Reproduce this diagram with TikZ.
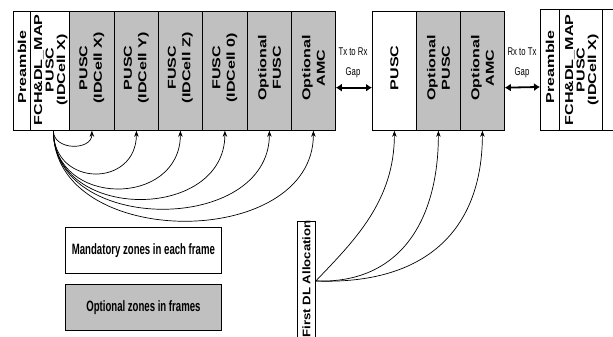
\documentclass[tikz,border=0pt]{standalone}
\usepackage{fontspec}
\usetikzlibrary{arrows.meta,calc}
\newfontfamily\zonefont[FakeStretch=1.4]{Liberation Sans}
\newfontfamily\dlfont[FakeStretch=1.2]{Liberation Sans}
\newfontfamily\narrowfont[FakeStretch=0.69]{Liberation Sans}
\newfontfamily\legendfont[FakeStretch=0.64]{Liberation Sans}
\definecolor{zonegray}{RGB}{192,192,192}

\begin{document}
\begin{tikzpicture}[x=1pt,y=-1pt,
  zone/.style={draw=black, line width=0.8pt, inner sep=0pt, anchor=north west, minimum height=119pt},
  opt/.style={zone, fill=zonegray},
  man/.style={zone, fill=white},
  zlabel/.style={rotate=90, align=center, inner sep=0pt,
    font=\zonefont\bfseries\fontsize{11.5}{14.5}\selectfont},
  wlabel/.style={rotate=90, align=center, inner sep=0pt,
    font=\zonefont\bfseries\fontsize{11.5}{11.5}\selectfont},
  link/.style={line width=0.7pt, -{Stealth[length=6pt,width=4.5pt]}},
  gaparrow/.style={line width=1.8pt, {Latex[length=6pt,width=8pt]}-{Latex[length=6pt,width=8pt]}},
  gaptext/.style={align=center, inner sep=0pt, font=\narrowfont\fontsize{11.2}{20}\selectfont},
  legend/.style={draw=black, line width=0.8pt, minimum width=156pt, minimum height=46pt,
    inner sep=0pt, anchor=north west, font=\legendfont\bfseries\fontsize{15}{17}\selectfont}]
\useasboundingbox (0,0) rectangle (613,337);
\clip (0,0) rectangle (613,337);

% ---- first frame ----
\node[man, minimum width=17pt] (a1) at (13,11) {};
\node[man, minimum width=39pt] (a2) at (30,11) {};
\node[opt, minimum width=45pt] (a3) at (69,11) {};
\node[opt, minimum width=44pt] (a4) at (114,11) {};
\node[opt, minimum width=44pt] (a5) at (158,11) {};
\node[opt, minimum width=45pt] (a6) at (202,11) {};
\node[opt, minimum width=44pt] (a7) at (247,11) {};
\node[opt, minimum width=44pt] (a8) at (291,11) {};

\node[wlabel] at ($(a1)+(0,-4)$) {Preamble};
\node[wlabel] at ($(a2)+(1,-1)$) {FCH\&DL\_MAP\\PUSC\\(IDCell X)};
\node[zlabel] at ($(a3)+(0,-3)$) {PUSC\\(IDCell X)};
\node[zlabel] at ($(a4)+(0,-3)$) {PUSC\\(IDCell Y)};
\node[zlabel] at ($(a5)+(0,-3)$) {FUSC\\(IDCell Z)};
\node[zlabel] at ($(a6)+(0,-3)$) {FUSC\\(IDCell 0)};
\node[zlabel] at ($(a7)+(0,-3)$) {Optional\\FUSC};
\node[zlabel] at ($(a8)+(0,-3)$) {Optional\\AMC};

% ---- second frame ----
\node[man, minimum width=44pt] (b1) at (372,11) {};
\node[opt, minimum width=44pt] (b2) at (416,11) {};
\node[opt, minimum width=44pt] (b3) at (460,11) {};
\node[zlabel] at ($(b1)+(0,-3)$) {PUSC};
\node[zlabel] at ($(b2)+(0,-3)$) {Optional\\PUSC};
\node[zlabel] at ($(b3)+(0,-3)$) {Optional\\AMC};

% ---- third frame ----
\node[man, minimum width=19pt, minimum height=121pt] (c1) at (540,9) {};
\node[man, minimum width=43pt, minimum height=121pt] (c2) at (559,9) {};
\node[man, minimum width=30pt, minimum height=121pt] (c3) at (602,9) {};
\node[wlabel] at ($(c1)+(0,-3)$) {Preamble};
\node[wlabel] at ($(c2)+(1,0)$) {FCH\&DL\_MAP\\PUSC\\(IDCell X)};

% ---- gaps between frames ----
\node[gaptext] (g1) at (353,63) {Tx to Rx\\Gap};
\node[gaptext] (g2) at (522,63) {Rx to Tx\\Gap};
\draw[gaparrow] ($(a8.north east)!0.64!(a8.south east)$) -- ($(b1.north west)!0.64!(b1.south west)$);
\draw[gaparrow] ($(b3.north east)!0.64!(b3.south east)$) -- ($(c1.north west)!0.64!(c1.south west)$);

% ---- zone links from the FCH zone ----
\coordinate (src) at ($(a2.south)+(3.5,0)$);
\draw[link] (src) .. controls ($(src)+(0,20)$) and ($(a3.south)+(0,20)$) .. (a3.south);
\draw[link] (src) .. controls ($(src)+(0,57)$) and ($(a4.south)+(0,57)$) .. (a4.south);
\draw[link] (src) .. controls ($(src)+(0,77)$) and ($(a5.south)+(0,77)$) .. (a5.south);
\draw[link] (src) .. controls ($(src)+(0,91)$) and ($(a6.south)+(0,91)$) .. (a6.south);
\draw[link] (src) .. controls ($(src)+(0,104)$) and ($(a7.south)+(0,104)$) .. (a7.south);
\draw[link] (src) .. controls ($(src)+(0,120)$) and ($(a8.south)+(0,120)$) .. (a8.south);

% ---- legend ----
\node[legend, fill=white] (lm) at (65,227) {Mandatory zones in each frame};
\node[legend, fill=zonegray] (lo) at (65,284) {Optional zones in frames};

% ---- first DL allocation ----
\node[draw=black, fill=white, line width=0.8pt, inner sep=0pt, anchor=north west,
      minimum width=18pt, minimum height=130pt] (fdl) at (297,221) {};
\node[rotate=90, anchor=east, inner sep=0pt,
      font=\dlfont\bfseries\fontsize{11}{13}\selectfont] at ($(fdl.north)+(0,-1)$) {First DL Allocation};
\coordinate (dl) at ($(fdl.north east)+(0,60)$);
\draw[link] (dl) .. controls (355,240) and ($(b1.south)+(0,70)$) .. (b1.south);
\draw[link] (dl) .. controls (400,284) and ($(b2.south)+(0,90)$) .. (b2.south);
\draw[link] (dl) .. controls (425,285) and ($(b3.south)+(0,100)$) .. (b3.south);
\end{tikzpicture}
\end{document}
